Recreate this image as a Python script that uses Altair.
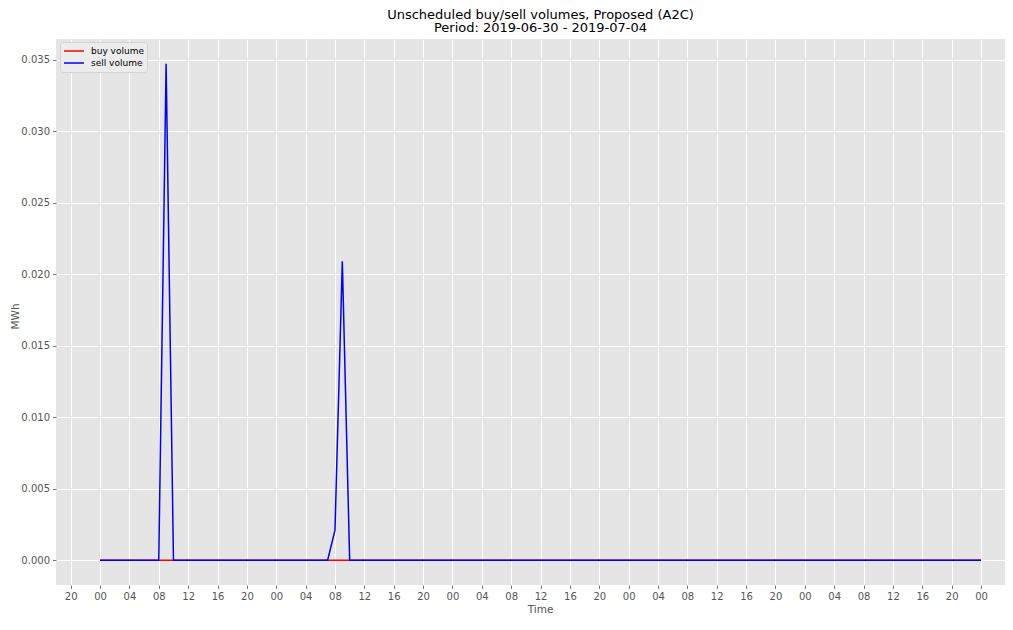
import altair as alt
import pandas as pd

# ---- data (hourly, 2019-06-30 00:00 .. 2019-07-05 00:00, UTC) ----
start_time = "2019-06-30T00:00:00"
series_names = ["buy volume", "sell volume"]
series_colors = ["#FF0000", "#0000FF"]

buy_volume = (
    [0.0, 0.0, 0.0, 0.0, 0.0, 0.0, 0.0, 0.0, 0.0, 0.0, 0.0, 0.0,
     0.0, 0.0, 0.0, 0.0, 0.0, 0.0, 0.0, 0.0, 0.0, 0.0, 0.0, 0.0]
    + [0.0, 0.0, 0.0, 0.0, 0.0, 0.0, 0.0, 0.0, 0.0, 0.0, 0.0, 0.0,
       0.0, 0.0, 0.0, 0.0, 0.0, 0.0, 0.0, 0.0, 0.0, 0.0, 0.0, 0.0]
    + [0.0, 0.0, 0.0, 0.0, 0.0, 0.0, 0.0, 0.0, 0.0, 0.0, 0.0, 0.0,
       0.0, 0.0, 0.0, 0.0, 0.0, 0.0, 0.0, 0.0, 0.0, 0.0, 0.0, 0.0]
    + [0.0, 0.0, 0.0, 0.0, 0.0, 0.0, 0.0, 0.0, 0.0, 0.0, 0.0, 0.0,
       0.0, 0.0, 0.0, 0.0, 0.0, 0.0, 0.0, 0.0, 0.0, 0.0, 0.0, 0.0]
    + [0.0, 0.0, 0.0, 0.0, 0.0, 0.0, 0.0, 0.0, 0.0, 0.0, 0.0, 0.0,
       0.0, 0.0, 0.0, 0.0, 0.0, 0.0, 0.0, 0.0, 0.0, 0.0, 0.0, 0.0]
    + [0.0]
)

sell_volume = (
    [0.0, 0.0, 0.0, 0.0, 0.0, 0.0, 0.0, 0.0, 0.0, 0.0347, 0.0, 0.0,
     0.0, 0.0, 0.0, 0.0, 0.0, 0.0, 0.0, 0.0, 0.0, 0.0, 0.0, 0.0]
    + [0.0, 0.0, 0.0, 0.0, 0.0, 0.0, 0.0, 0.0, 0.0021, 0.0209, 0.0, 0.0,
       0.0, 0.0, 0.0, 0.0, 0.0, 0.0, 0.0, 0.0, 0.0, 0.0, 0.0, 0.0]
    + [0.0, 0.0, 0.0, 0.0, 0.0, 0.0, 0.0, 0.0, 0.0, 0.0, 0.0, 0.0,
       0.0, 0.0, 0.0, 0.0, 0.0, 0.0, 0.0, 0.0, 0.0, 0.0, 0.0, 0.0]
    + [0.0, 0.0, 0.0, 0.0, 0.0, 0.0, 0.0, 0.0, 0.0, 0.0, 0.0, 0.0,
       0.0, 0.0, 0.0, 0.0, 0.0, 0.0, 0.0, 0.0, 0.0, 0.0, 0.0, 0.0]
    + [0.0, 0.0, 0.0, 0.0, 0.0, 0.0, 0.0, 0.0, 0.0, 0.0, 0.0, 0.0,
       0.0, 0.0, 0.0, 0.0, 0.0, 0.0, 0.0, 0.0, 0.0, 0.0, 0.0, 0.0]
    + [0.0]
)

y_ticks = [0.0, 0.005, 0.010, 0.015, 0.020, 0.025, 0.030, 0.035]
x_tick_start = "2019-06-29T20:00:00"
x_tick_end = "2019-07-05T00:00:00"
x_domain = ["2019-06-29T18:00:00", "2019-07-05T03:16:00"]


def ms(t):
    return int(pd.Timestamp(t, tz="UTC").value // 10**6)


times = pd.date_range(start_time, periods=len(sell_volume), freq="h", tz="UTC")
time_ms = [int(t.value // 10**6) for t in times]
x_tick_values = [int(t.value // 10**6) for t in pd.date_range(x_tick_start, x_tick_end, freq="4h", tz="UTC")]

df_buy = pd.DataFrame({"time": time_ms, "value": buy_volume, "series": series_names[0]})
df_sell = pd.DataFrame({"time": time_ms, "value": sell_volume, "series": series_names[1]})

FONT = "DejaVu Sans"
W, H = 949, 546

x_enc = alt.X(
    "time:T",
    scale=alt.Scale(type="utc", domain=[ms(x_domain[0]), ms(x_domain[1])], nice=False),
    axis=alt.Axis(
        format="%H",
        values=x_tick_values,
        title="Time",
        titleX=484,
        titleY=19,
        titleAlign="center",
        titleBaseline="top",
        labelFlush=False,
        labelOverlap=False,
    ),
)
y_enc = alt.Y(
    "value:Q",
    scale=alt.Scale(domain=[-0.001735, 0.036435], nice=False, zero=False),
    axis=alt.Axis(
        values=y_ticks,
        format=".3f",
        title="MWh",
        titleX=-38,
        titleY=H / 2 + 4,
        titleAlign="center",
        titleBaseline="alphabetic",
        titleAngle=270,
    ),
)
color_enc = alt.Color(
    "series:N",
    scale=alt.Scale(domain=series_names, range=series_colors),
    legend=alt.Legend(
        title=None,
        orient="none",
        legendX=4,
        legendY=3,
        fillColor="#ECECEC",
        strokeColor="#D2D2D2",
        cornerRadius=3,
        padding=3,
        symbolType="stroke",
        symbolSize=400,
        symbolStrokeWidth=1.5,
        clipHeight=12,
        labelFontSize=9,
        labelFont=FONT,
        labelColor="#000000",
        labelOffset=6,
        rowPadding=0,
    ),
)

buy_line = alt.Chart(df_buy).mark_line(strokeWidth=1.5).encode(x=x_enc, y=y_enc, color=color_enc)
sell_line = alt.Chart(df_sell).mark_line(strokeWidth=1.5).encode(x=x_enc, y=y_enc, color=color_enc)

chart = (
    alt.layer(buy_line, sell_line)
    .properties(
        width=W,
        height=H,
        autosize=alt.AutoSizeParams(type="none"),
        padding={"left": 48, "top": 31, "right": 0, "bottom": 33},
        title=alt.TitleParams(
            text=["Unscheduled buy/sell volumes, Proposed (A2C)", "Period: 2019-06-30 - 2019-07-04"],
            font=FONT,
            fontSize=13,
            fontWeight="normal",
            color="#000000",
            anchor="middle",
            dx=10,
            offset=4,
            lineHeight=13.5,
        ),
    )
    .configure_view(fill="#E5E5E5", strokeWidth=0)
    .configure_axis(
        domain=False,
        grid=True,
        gridColor="#FFFFFF",
        gridWidth=1,
        labelFont=FONT,
        labelFontSize=10,
        labelColor="#555555",
        labelPadding=3,
        tickColor="#555555",
        tickSize=3.5,
        tickWidth=0.8,
        titleFont=FONT,
        titleFontSize=10.5,
        titleFontWeight="normal",
        titleColor="#555555",
    )
)

chart.save("out.html", embed_options={"renderer": "svg", "actions": False})
